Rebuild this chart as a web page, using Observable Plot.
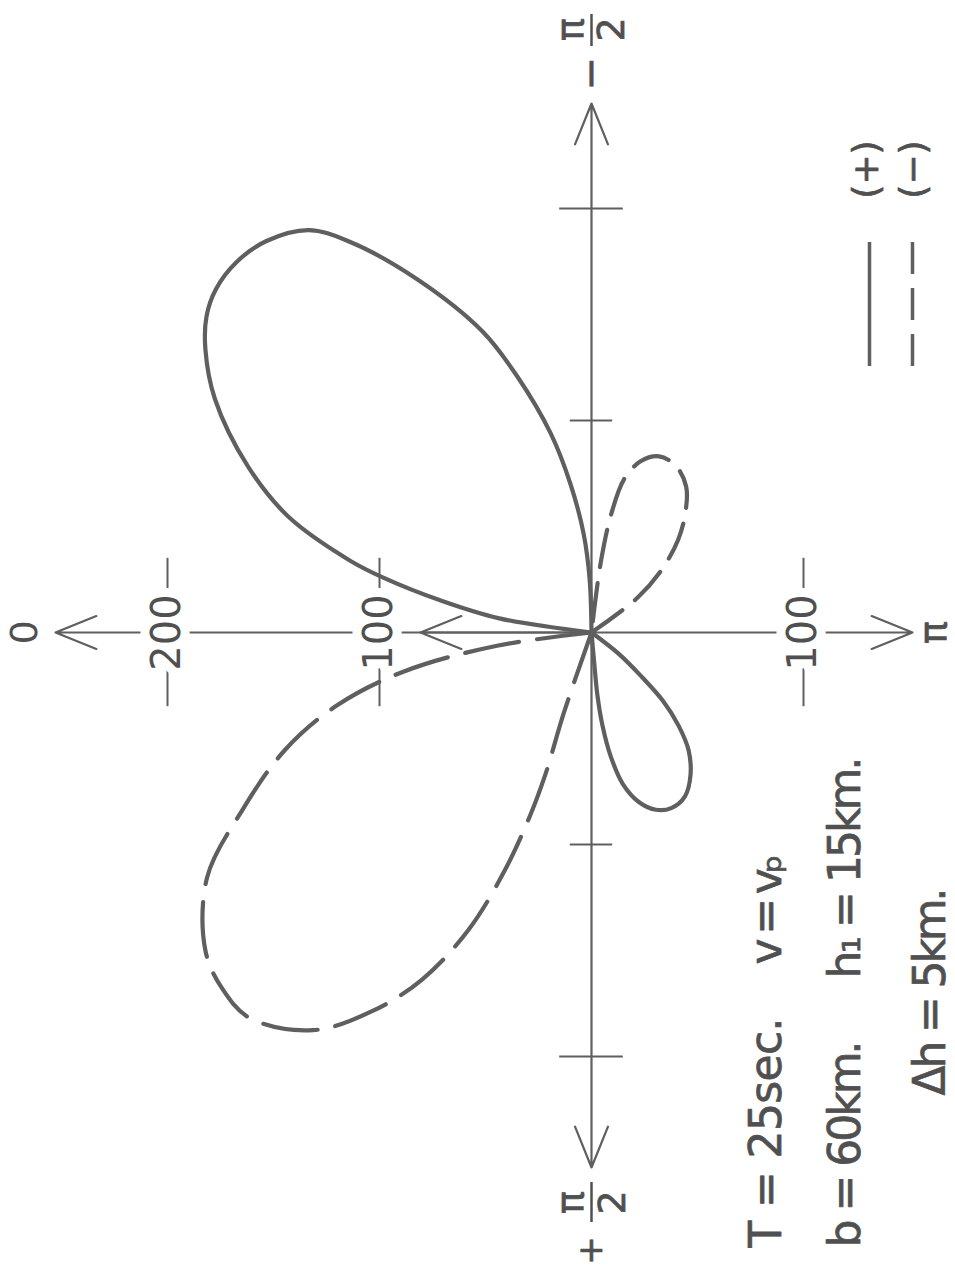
<!DOCTYPE html>
<html>
<head>
<meta charset="utf-8">
<script src="https://cdn.jsdelivr.net/npm/d3@7"></script>
<script src="https://cdn.jsdelivr.net/npm/@observablehq/plot@0.6"></script>
<style>
  html, body { margin: 0; padding: 0; background: #fff; }
  #chart svg { display: block; }
</style>
</head>
<body>
<div id="chart"></div>
<script>
// Radiation pattern of the (+) and (−) contributions, angle in degrees, amplitude in plot units.
// Angle 0 points left, −90 up, +90 down, 180 right (the figure is drawn turned on its side).
const plusMajorTheta = [-3, -8.7, -12, -14.7, -16.6, -20.9, -25.8, -31.8, -36.3, -39.4, -42.4, -46.2, -50.3, -54.9, -58.2, -63.7, -70.1, -73.8, -78.4, -81.9, -85.4, -88, -90];
const plusMajorR     = [0, 44, 73, 101, 119, 153, 180, 209, 226, 235, 240, 242, 240, 232, 217, 186, 151, 126, 96, 71, 47, 25, 0];

const plusMinorTheta = [145, 142, 138.7, 136.2, 133.1, 129.5, 124.7, 119.7, 114.4, 110, 105.6, 101.7, 98.8, 96.7, 95.4, 95.1, 94];
const plusMinorR     = [0, 16, 31, 47, 60, 72, 82, 89, 91, 89, 83, 73, 59, 44, 30, 16, 0];

const minusMajorTheta = [6, 8, 11.7, 16, 21, 27, 32.5, 39.5, 44, 48.5, 55, 60, 64, 67.5, 70, 71.5, 72, 71, 70];
const minusMajorR     = [0, 45, 90, 125, 155, 185, 215, 236, 242, 243, 229, 206, 182, 152, 119, 90, 70, 40, 0];

const minusMinorTheta = [-147, -143, -138, -133, -128, -123, -117, -111, -106, -102, -99.5, -97.5, -96];
const minusMinorR     = [0, 27, 45, 60, 72, 82, 88, 89, 84, 74, 57, 33, 0];

// Axis graduations
const radialTicks = [-200, -100, 100, 200];
const labelledTicks = [-200, -100, 100];
const tickLabels = ["200", "100", "100"];

// Direction labels
const dirZero = "0";
const dirPi = "π";
const fracNum = "π";
const fracDen = "2";
const signUp = "−";
const signDown = "+";

// Legend
const legendKeys = ["(+)", "(−)"];

// Parameters of the computation
const paramLines = [
  ["T = 25sec.", "v = vₚ"],
  ["b = 60km.", "h₁ = 15km."],
  ["Δh = 5km."]
];

// ---- layout ----
const W = 955, H = 1266;
const cx = 591, cy = 632;      // pixel position of the origin
const k = 2.12;                // pixels per unit
const ux = px => (px - cx) / k;
const uy = py => (py - cy) / k;

const ink = "#5f5f5f";
const textInk = "#505050";
const font = "DejaVu Sans";

const toXY = (thetas, rs, lobe) => thetas.map((t, i) => {
  const a = t * Math.PI / 180;
  return {lobe, x: -rs[i] * Math.cos(a), y: rs[i] * Math.sin(a)};
});

const plusMajor = toXY(plusMajorTheta, plusMajorR, "plusMajor");
const plusMinor = toXY(plusMinorTheta, plusMinorR, "plusMinor");
const minusMajor = toXY(minusMajorTheta, minusMajorR, "minusMajor");
const minusMinor = toXY(minusMinorTheta, minusMinorR, "minusMinor");

// axis arms: from the origin to the arrow tips
const arms = [
  {x2: ux(55), y2: 0},
  {x2: ux(912), y2: 0},
  {x2: 0, y2: uy(103)},
  {x2: 0, y2: uy(1167)},
  {x2: ux(420), y2: 0}     // inner head on the left arm
];

const tickLabelData = labelledTicks.map((v, i) => ({x: v, label: tickLabels[i]}));

// parameter block: column positions, baseline starts and lettered lengths (pixels)
const colX = [766, 845, 930];
const colStart = [[1247, 964], [1247, 978], [1095]];
const colLength = [[230, 110], [207, 222], [208]];
const paramData = [];
paramLines.forEach((col, i) => col.forEach((t, j) => paramData.push({x: ux(colX[i]), y: uy(colStart[i][j]), t, len: colLength[i][j]})));

const textStyle = {fontFamily: font, fill: textInk, stroke: textInk, strokeWidth: 0.7, rotate: -90, lineAnchor: "middle"};

const chart = Plot.plot({
  width: W,
  height: H,
  margin: 0,
  x: {domain: [ux(0), ux(W)], range: [0, W], axis: null},
  y: {domain: [uy(0), uy(H)], range: [0, H], axis: null},
  marks: [
    // axes with arrow heads
    Plot.arrow(arms, {x1: 0, y1: 0, x2: "x2", y2: "y2", stroke: ink, strokeWidth: 2.2, headLength: 30, headAngle: 44}),
    // graduations on the vertical arm
    Plot.ruleY(radialTicks, {y: d => d, x1: d => Math.abs(d) > 150 ? -15 : -10, x2: d => Math.abs(d) > 150 ? 15 : 10, stroke: ink, strokeWidth: 2}),
    // graduations on the horizontal arm
    Plot.ruleX(labelledTicks, {x: d => d, y1: -35, y2: 35, stroke: ink, strokeWidth: 2}),
    Plot.text(tickLabelData, {x: "x", y: 0, text: "label", rotate: -90, fontSize: 40, fontFamily: font, fill: textInk, stroke: "white", strokeWidth: 18, lineAnchor: "middle"}),
    // direction labels
    Plot.text([dirZero], {...textStyle, x: ux(10), y: 0, text: d => d, fontSize: 38, strokeWidth: 0, lineAnchor: "top"}),
    Plot.text([dirPi], {...textStyle, x: ux(945), y: 0, text: d => d, fontSize: 38, lineAnchor: "bottom"}),
    Plot.text([fracNum, fracDen], {...textStyle, x: (d, i) => i === 0 ? ux(570) : ux(611), y: uy(29), text: d => d, fontSize: 38}),
    Plot.text([fracNum, fracDen], {...textStyle, x: (d, i) => i === 0 ? ux(570) : ux(612), y: uy(1202), text: d => d, fontSize: 38}),
    Plot.ruleX([0], {y1: uy(14), y2: uy(46), stroke: textInk, strokeWidth: 2.5}),
    Plot.ruleX([0], {y1: uy(1182), y2: uy(1222), stroke: textInk, strokeWidth: 2.5}),
    Plot.text([signUp], {...textStyle, x: 0, y: uy(73), text: d => d, fontSize: 40}),
    Plot.text([signDown], {...textStyle, x: 0, y: uy(1250), text: d => d, fontSize: 34}),
    // pattern lobes
    Plot.line(plusMajor, {x: "x", y: "y", curve: "catmull-rom", stroke: ink, strokeWidth: 4.2}),
    Plot.line(plusMinor, {x: "x", y: "y", curve: "catmull-rom", stroke: ink, strokeWidth: 4.2}),
    Plot.line(minusMajor, {x: "x", y: "y", curve: "catmull-rom", stroke: ink, strokeWidth: 4.2, strokeDasharray: "55,18"}),
    Plot.line(minusMinor, {x: "x", y: "y", curve: "catmull-rom", stroke: ink, strokeWidth: 4.2, strokeDasharray: "38,16"}),
    // legend
    Plot.text(legendKeys, {...textStyle, x: (d, i) => i === 0 ? ux(866) : ux(913), y: uy(169), text: d => d, fontSize: 36}),
    Plot.ruleX([ux(869)], {y1: uy(242), y2: uy(366), stroke: ink, strokeWidth: 3.5}),
    Plot.ruleX([ux(912)], {y1: uy(242), y2: uy(366), stroke: ink, strokeWidth: 3.5, strokeDasharray: "32,14"}),
    // parameters
    Plot.text(paramData, {...textStyle, x: "x", y: "y", text: "t", textAnchor: "start", fontSize: 44, className: "params"})
  ]
});

// fit each lettered parameter line to its drawn length by adjusting the spacing only
d3.select(chart).selectAll(".params text").each(function(_, i) {
  d3.select(this).attr("textLength", paramData[i].len).attr("lengthAdjust", "spacing");
});

document.getElementById("chart").appendChild(chart);
</script>
</body>
</html>
